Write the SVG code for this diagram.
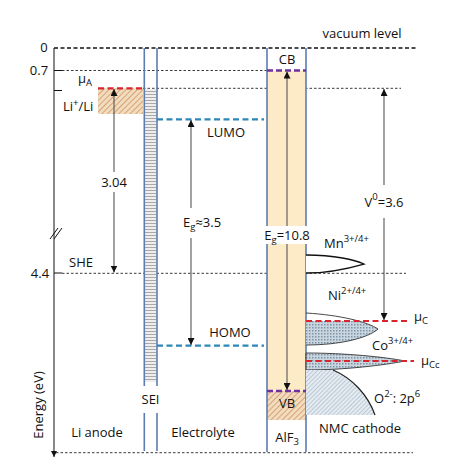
<svg xmlns="http://www.w3.org/2000/svg" width="476" height="471" viewBox="0 0 476 471">
<style>
text{font-family:"Open Sans","Liberation Sans",sans-serif;font-size:13px;fill:#111}
.lbl{text-anchor:middle;dominant-baseline:central}
.blk{stroke:#111;stroke-width:1;fill:none}
.dot{stroke:#222;stroke-width:0.9;stroke-dasharray:2.5 2;fill:none}
.dash0{stroke:#111;stroke-width:1.3;stroke-dasharray:4 2.5;fill:none}
.col{stroke:#5B7DB1;stroke-width:1.6;fill:none}
.red{stroke:#D9252E;stroke-width:2.2;stroke-dasharray:6 3.5;fill:none}
.blu{stroke:#2E86B8;stroke-width:2.2;stroke-dasharray:6 3.5;fill:none}
.pur{stroke:#7030A0;stroke-width:2.6;stroke-dasharray:6 3;fill:none}
.arr{stroke:#555;stroke-width:1.1;fill:none}
.sub{font-size:9.5px}
</style>
<defs>
<marker id="ah" viewBox="0 0 10 10" refX="10" refY="5" markerWidth="7" markerHeight="7" orient="auto-start-reverse" markerUnits="userSpaceOnUse"><path d="M0,0 L10,5 L0,10 Z" fill="#111"/></marker>
<marker id="ax" viewBox="0 0 10 10" refX="10" refY="5" markerWidth="6" markerHeight="6" orient="auto" markerUnits="userSpaceOnUse"><path d="M0,0 L10,5 L0,10 Z" fill="#111"/></marker>
<pattern id="brown" width="4" height="4" patternUnits="userSpaceOnUse" patternTransform="rotate(45)"><rect width="4" height="4" fill="#F2DCC0"/><line x1="0" y1="0" x2="0" y2="4" stroke="#C9864A" stroke-width="1.3"/></pattern>
<pattern id="sei" width="3" height="3" patternUnits="userSpaceOnUse"><rect width="3" height="3" fill="#EEEEEE"/><line x1="0" y1="1.5" x2="3" y2="1.5" stroke="#A8A8A8" stroke-width="1"/></pattern>
<pattern id="band" width="3" height="3" patternUnits="userSpaceOnUse"><rect width="3" height="3" fill="#C9D6E0"/><rect x="0" y="0" width="1.5" height="1.5" fill="#7D93A6"/></pattern>
<pattern id="oband" width="3" height="3" patternUnits="userSpaceOnUse" patternTransform="rotate(45)"><rect width="3" height="3" fill="#E4EBF1"/><line x1="0" y1="0" x2="0" y2="3" stroke="#96AABB" stroke-width="1"/></pattern>
<clipPath id="belowC"><rect x="300" y="321" width="120" height="40"/></clipPath>
</defs>

<g id="axis">
<line x1="54" y1="48" x2="54" y2="457" class="blk" marker-end="url(#ax)"/>
<line x1="54" y1="70.5" x2="62" y2="70.5" class="blk"/>
<line x1="54" y1="90.5" x2="62" y2="90.5" class="blk"/>
<line x1="54" y1="273" x2="62" y2="273" class="blk"/>
<line x1="50" y1="239" x2="58" y2="228" class="blk"/>
<line x1="54" y1="239" x2="62" y2="228" class="blk"/>
<text x="44" y="47" class="lbl">0</text>
<text x="39" y="70" class="lbl">0.7</text>
<text x="40" y="273" class="lbl">4.4</text>
<text transform="translate(38,405) rotate(-90)" class="lbl">Energy (eV)</text>
</g>

<g id="levels">
<line x1="54" y1="48" x2="416" y2="48" class="dash0"/>
<line x1="62" y1="70.5" x2="267" y2="70.5" class="dot"/>
<line x1="143" y1="88.3" x2="401" y2="88.3" class="dot"/>
<line x1="62" y1="273.3" x2="406" y2="273.3" class="dot"/>
<line x1="56" y1="452.7" x2="413" y2="452.7" class="dot"/>
<text x="362" y="33" class="lbl">vacuum level</text>
</g>

<g id="anode">
<rect x="98" y="88.3" width="45" height="25.7" fill="url(#brown)"/>
<line x1="98" y1="88.3" x2="143" y2="88.3" class="red"/>
<text x="78" y="83">μ<tspan class="sub" dy="3">A</tspan></text>
<text x="63" y="111">Li<tspan class="sub" dy="-5">+</tspan><tspan dy="5">/Li</tspan></text>
<text x="97" y="432" class="lbl">Li anode</text>
</g>

<g id="sei-layer">
<rect x="144.5" y="89" width="12" height="293" fill="url(#sei)"/>
<line x1="144.3" y1="48" x2="144.3" y2="386" class="col"/>
<line x1="157" y1="48" x2="157" y2="386" class="col"/>
<line x1="144.3" y1="413" x2="144.3" y2="451" class="col"/>
<line x1="157" y1="413" x2="157" y2="451" class="col"/>
<text x="150.5" y="399" class="lbl">SEI</text>
</g>

<g id="electrolyte">
<line x1="157" y1="119.3" x2="264" y2="119.3" class="blu"/>
<line x1="157" y1="345.7" x2="264" y2="345.7" class="blu"/>
<text x="226" y="132" class="lbl">LUMO</text>
<text x="230" y="332" class="lbl">HOMO</text>
<text x="202" y="222" class="lbl">E<tspan class="sub" dy="4">g</tspan><tspan dy="-4">≈3.5</tspan></text>
<text x="203" y="432" class="lbl">Electrolyte</text>
</g>

<g id="alf3">
<rect x="267" y="70.5" width="39" height="320" fill="#FDEBC8"/>
<rect x="267" y="391" width="39" height="29" fill="url(#brown)"/>
<line x1="267" y1="48" x2="267" y2="452" class="col"/>
<line x1="306" y1="48" x2="306" y2="452" class="col"/>
<line x1="267" y1="70.5" x2="306" y2="70.5" class="pur"/>
<line x1="267" y1="391" x2="306" y2="391" class="pur"/>
<text x="287" y="59" class="lbl">CB</text>
<text x="287" y="403" class="lbl">VB</text>
<text x="287" y="437" class="lbl">AlF<tspan class="sub" dy="4">3</tspan></text>
</g>

<g id="cathode">
<path d="M306,255 C335,255 355,260 364,264 C350,268 330,273 306,273" fill="#fff" stroke="#111" stroke-width="1.3"/>
<path d="M306,313 C340,315 368,322 378,329 C368,338 340,345 306,345 Z" fill="url(#band)" clip-path="url(#belowC)"/>
<path d="M306,313 C340,315 368,322 378,329 C368,338 340,345 306,345" fill="none" stroke="#333" stroke-width="0.9"/>
<path d="M306,353 C345,353 385,357 405,361 C385,365 345,370 306,370 Z" fill="url(#band)" stroke="#333" stroke-width="0.9"/>
<path d="M306,370 L333,370 C352,378 368,395 375,415 L306,415 Z" fill="url(#oband)"/>
<path d="M333,370 C352,378 368,395 375,415" fill="none" stroke="#222" stroke-width="1.2"/>
<line x1="306" y1="321" x2="408" y2="321" class="red"/>
<line x1="306" y1="361" x2="414" y2="361" class="red"/>
<text x="324" y="248">Mn<tspan class="sub" dy="-6">3+/4+</tspan></text>
<text x="328" y="300">Ni<tspan class="sub" dy="-6">2+/4+</tspan></text>
<text x="372" y="350">Co<tspan class="sub" dy="-6">3+/4+</tspan></text>
<text x="414" y="321">μ<tspan class="sub" dy="3">C</tspan></text>
<text x="421" y="365">μ<tspan class="sub" dy="3">Cc</tspan></text>
<text x="374" y="403">O<tspan class="sub" dy="-6">2-</tspan><tspan dy="6">: 2p</tspan><tspan class="sub" dy="-6">6</tspan></text>
<text x="360" y="428" class="lbl">NMC cathode</text>
</g>

<g id="connectors">
<line x1="114" y1="172" x2="114" y2="89" class="arr" marker-end="url(#ah)"/>
<line x1="114" y1="192" x2="114" y2="272.5" class="arr" marker-end="url(#ah)"/>
<line x1="191" y1="208" x2="191" y2="120" class="arr" marker-end="url(#ah)"/>
<line x1="191" y1="238" x2="191" y2="345" class="arr" marker-end="url(#ah)"/>
<line x1="287" y1="390" x2="287" y2="71.5" class="arr" marker-start="url(#ah)" marker-end="url(#ah)"/>
<line x1="384" y1="185" x2="384" y2="89" class="arr" marker-end="url(#ah)"/>
<line x1="384" y1="218" x2="384" y2="320" class="arr" marker-end="url(#ah)"/>
</g>

<g id="gap-labels">
<text x="114" y="182" class="lbl">3.04</text>
<text x="81" y="262" class="lbl">SHE</text>
<rect x="261" y="226" width="52" height="18" fill="#fff"/>
<text x="287" y="235" class="lbl">E<tspan class="sub" dy="4">g</tspan><tspan dy="-4">=10.8</tspan></text>
<text x="384" y="202" class="lbl">V<tspan class="sub" dy="-6">0</tspan><tspan dy="6">=3.6</tspan></text>
</g>
</svg>
